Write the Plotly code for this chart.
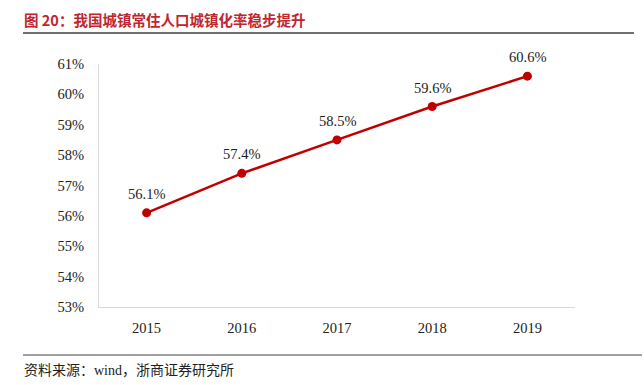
import plotly.graph_objects as go

years = ["2015", "2016", "2017", "2018", "2019"]
rates = [56.1, 57.4, 58.5, 59.6, 60.6]
labels = [f"{v:.1f}%" for v in rates]
ytick_vals = [53, 54, 55, 56, 57, 58, 59, 60, 61]
ytick_text = [f"{v}%" for v in ytick_vals]

title_text = "图 20：我国城镇常住人口城镇化率稳步提升"
source_text = "资料来源：wind，浙商证券研究所"

RED = "#C00000"
SERIF = "Times New Roman, Liberation Serif, serif"

fig = go.Figure()
fig.add_trace(go.Scatter(
    x=years, y=rates, mode="lines+markers",
    line=dict(color=RED, width=2.5),
    marker=dict(color=RED, size=9),
    cliponaxis=False, hoverinfo="skip",
))

# category axis: annotation x given as the category index
annotations = [
    dict(x=i, y=v, text=lab, xref="x", yref="y", showarrow=False,
         yanchor="middle", xanchor="center", yshift=19,
         font=dict(family=SERIF, size=14.5, color="#222222"))
    for i, (v, lab) in enumerate(zip(rates, labels))
]
annotations += [
    dict(text="<b>" + title_text + "</b>", xref="paper", yref="paper",
         x=-77/476, y=1 + 44/243, xanchor="left", yanchor="middle",
         showarrow=False,
         font=dict(family="Noto Sans CJK SC", size=14.5, color="#C0262D")),
    dict(text=source_text, xref="paper", yref="paper",
         x=-77/476, y=-63/243, xanchor="left", yanchor="middle",
         showarrow=False,
         font=dict(family="Liberation Serif, Noto Sans CJK SC", size=14, color="#222222")),
]

fig.update_layout(
    width=644, height=385,
    margin=dict(l=99, r=69, t=64, b=78),
    paper_bgcolor="white", plot_bgcolor="white",
    showlegend=False,
    xaxis=dict(
        type="category", range=[-0.5, 4.5], showgrid=False, zeroline=False,
        showline=True, linecolor="#D9D9D9", linewidth=1,
        ticks="", tickfont=dict(family=SERIF, size=14.5, color="#222222"),
        ticklabelstandoff=8,
    ),
    yaxis=dict(
        range=[53, 61], tickvals=ytick_vals, ticktext=ytick_text,
        showgrid=False, zeroline=False,
        showline=True, linecolor="#D9D9D9", linewidth=1,
        ticks="", tickfont=dict(family=SERIF, size=14.5, color="#222222"),
        ticklabelstandoff=11,
    ),
    annotations=annotations,
    shapes=[
        dict(type="line", xref="paper", yref="paper",
             x0=-76/476, x1=(634-99)/476, y0=1 + 31/243, y1=1 + 31/243,
             line=dict(color="#404040", width=1.5)),
        dict(type="line", xref="paper", yref="paper",
             x0=-76/476, x1=(642-99)/476, y0=-48/243, y1=-48/243,
             line=dict(color="#808080", width=1.5)),
    ],
)

fig.write_html("out.html", config={"displayModeBar": False},
               post_script="document.body.style.margin='0';")
